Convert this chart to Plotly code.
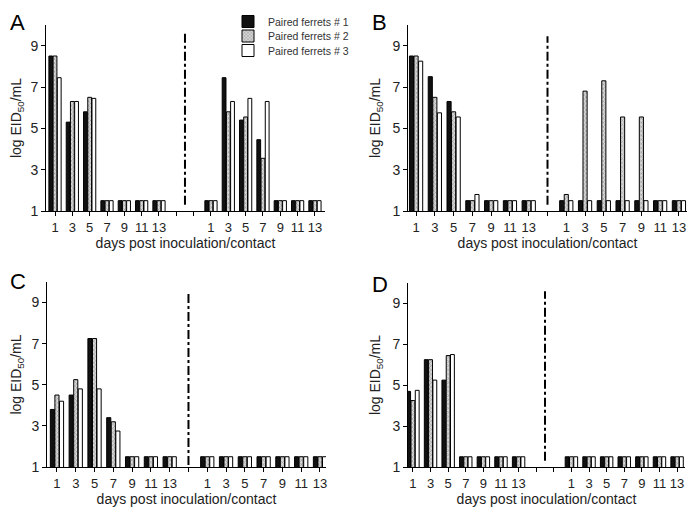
import plotly.graph_objects as go

# ---- data ----
days = [1, 3, 5, 7, 9, 11, 13]
series_names = ["Paired ferrets # 1", "Paired ferrets # 2", "Paired ferrets # 3"]

A_inoc_1 = [8.5, 5.3, 5.8, 1.5, 1.5, 1.5, 1.5]
A_inoc_2 = [8.5, 6.3, 6.5, 1.5, 1.5, 1.5, 1.5]
A_inoc_3 = [7.45, 6.3, 6.45, 1.5, 1.5, 1.5, 1.5]
A_cont_1 = [1.5, 7.45, 5.4, 4.45, 1.5, 1.5, 1.5]
A_cont_2 = [1.5, 5.8, 5.55, 3.55, 1.5, 1.5, 1.5]
A_cont_3 = [1.5, 6.3, 6.45, 6.3, 1.5, 1.5, 1.5]

B_inoc_1 = [8.5, 7.5, 6.3, 1.5, 1.5, 1.5, 1.5]
B_inoc_2 = [8.5, 6.5, 5.8, 1.5, 1.5, 1.5, 1.5]
B_inoc_3 = [8.25, 5.75, 5.55, 1.8, 1.5, 1.5, 1.5]
B_cont_1 = [1.5, 1.5, 1.5, 1.5, 1.5, 1.5, 1.5]
B_cont_2 = [1.8, 6.8, 7.3, 5.55, 5.55, 1.5, 1.5]
B_cont_3 = [1.5, 1.5, 1.5, 1.5, 1.5, 1.5, 1.5]

C_inoc_1 = [3.8, 4.5, 7.25, 3.4, 1.5, 1.5, 1.5]
C_inoc_2 = [4.5, 5.25, 7.25, 3.2, 1.5, 1.5, 1.5]
C_inoc_3 = [4.2, 4.8, 4.8, 2.75, 1.5, 1.5, 1.5]
C_cont_1 = [1.5, 1.5, 1.5, 1.5, 1.5, 1.5, 1.5]
C_cont_2 = [1.5, 1.5, 1.5, 1.5, 1.5, 1.5, 1.5]
C_cont_3 = [1.5, 1.5, 1.5, 1.5, 1.5, 1.5, 1.5]

D_inoc_1 = [4.7, 6.25, 5.25, 1.5, 1.5, 1.5, 1.5]
D_inoc_2 = [4.25, 6.25, 6.45, 1.5, 1.5, 1.5, 1.5]
D_inoc_3 = [4.75, 5.25, 6.5, 1.5, 1.5, 1.5, 1.5]
D_cont_1 = [1.5, 1.5, 1.5, 1.5, 1.5, 1.5, 1.5]
D_cont_2 = [1.5, 1.5, 1.5, 1.5, 1.5, 1.5, 1.5]
D_cont_3 = [1.5, 1.5, 1.5, 1.5, 1.5, 1.5, 1.5]

y_ticks = [1, 3, 5, 7, 9]

# page has an 8px body margin; figure is sized to fill the rest of the window
OFF = 8
W, H = 695 - OFF, 514 - OFF


def fx(px):
    return (px - OFF) / W


def fy(py):
    return 1 - (py - OFF) / H


# ---- layout settings per panel (reference pixel positions) ----
panels = [
    dict(letter="A", inoc=[A_inoc_1, A_inoc_2, A_inoc_3], cont=[A_cont_1, A_cont_2, A_cont_3],
         gap=2, xpx=[46, 325], ypx=[211, 25], xr=[-0.52, 15.58],
         dash_top=9.6, dash_bot=1.3, letter_px=(8, 8)),
    dict(letter="B", inoc=[B_inoc_1, B_inoc_2, B_inoc_3], cont=[B_cont_1, B_cont_2, B_cont_3],
         gap=1, xpx=[408, 687], ypx=[211, 25], xr=[-0.43, 14.43],
         dash_top=9.45, dash_bot=1.3, letter_px=(370, 8)),
    dict(letter="C", inoc=[C_inoc_1, C_inoc_2, C_inoc_3], cont=[C_cont_1, C_cont_2, C_cont_3],
         gap=1, xpx=[47, 326], ypx=[467, 282], xr=[-0.53, 14.32],
         dash_top=9.45, dash_bot=1.1, letter_px=(8, 267)),
    dict(letter="D", inoc=[D_inoc_1, D_inoc_2, D_inoc_3], cont=[D_cont_1, D_cont_2, D_cont_3],
         gap=2, xpx=[408, 685], ypx=[467, 283], xr=[-0.28, 15.45],
         dash_top=9.6, dash_bot=1.3, letter_px=(370, 270)),
]

styles = [
    dict(color="#111111", pattern=dict(shape="")),
    dict(color="#d0d0d0", pattern=dict(shape="x", size=3, solidity=0.35, fgcolor="#555555", bgcolor="#d8d8d8")),
    dict(color="#ffffff", pattern=dict(shape="")),
]
legend_ids = ["legend", "legend2", "legend3"]
legend_rows_px = [21.5, 36, 50.5]

font_family = "Liberation Sans, Arial, sans-serif"
fig = go.Figure()
layout = {}
shapes = []
annotations = []

for i, p in enumerate(panels):
    n = len(days)
    x_inoc = list(range(n))
    x_cont = [n + p["gap"] + k for k in range(n)]
    xs = x_inoc + x_cont
    suffix = "" if i == 0 else str(i + 1)
    xa, ya = "x" + suffix, "y" + suffix
    for s in range(3):
        fig.add_trace(go.Bar(
            x=xs, y=p["inoc"][s] + p["cont"][s],
            xaxis=xa, yaxis=ya, name=series_names[s],
            legend=legend_ids[s], showlegend=(i == 0),
            offsetgroup=str(s),
            marker=dict(color=styles[s]["color"], pattern=styles[s]["pattern"],
                        line=dict(color="black", width=1)),
        ))
    tickvals = list(range(n + p["gap"] + n))
    ticktext = [str(d) for d in days] + [""] * p["gap"] + [str(d) for d in days]
    layout["xaxis" + suffix] = dict(
        domain=[fx(p["xpx"][0]), fx(p["xpx"][1])], anchor=ya, range=p["xr"],
        tickvals=tickvals, ticktext=ticktext,
        ticks="outside", ticklen=4, tickcolor="black", showline=True, linecolor="black",
        linewidth=1, showgrid=False, zeroline=False, automargin=False,
        tickfont=dict(size=13, color="#222", family=font_family),
        title=dict(text="days post inoculation/contact", font=dict(size=14, color="#222", family=font_family), standoff=0),
    )
    layout["yaxis" + suffix] = dict(
        domain=[fy(p["ypx"][0]), fy(p["ypx"][1])], anchor=xa, range=[1, 10], tickvals=y_ticks,
        ticks="outside", ticklen=4, tickcolor="black", showline=True, linecolor="black",
        linewidth=1, showgrid=False, zeroline=False, automargin=False,
        tickfont=dict(size=14, color="#222", family=font_family),
        title=dict(text="log EID<sub>50</sub>/mL", font=dict(size=14, color="#222", family=font_family), standoff=8),
    )
    dash_x = n - 1 + (p["gap"] + 1) / 2
    shapes.append(dict(type="line", xref=xa, yref=ya, x0=dash_x, x1=dash_x,
                       y0=p["dash_bot"], y1=p["dash_top"],
                       line=dict(color="black", width=2, dash="dashdot")))
    annotations.append(dict(text=p["letter"], xref="paper", yref="paper",
                            x=fx(p["letter_px"][0]), y=fy(p["letter_px"][1]),
                            xanchor="left", yanchor="top", showarrow=False,
                            font=dict(size=22, color="black", family=font_family)))

for s in range(3):
    layout[legend_ids[s]] = dict(
        x=fx(228), y=fy(legend_rows_px[s]), xanchor="left", yanchor="middle",
        font=dict(size=10.5, color="#333", family=font_family),
        bgcolor="rgba(0,0,0,0)", itemwidth=30,
    )

fig.update_layout(
    width=W, height=H,
    margin=dict(l=0, r=0, t=0, b=0, autoexpand=False),
    paper_bgcolor="white", plot_bgcolor="white",
    barmode="group", bargap=0.27, bargroupgap=0.1,
    shapes=shapes, annotations=annotations,
    **layout,
)

fig.write_html("out.html")
